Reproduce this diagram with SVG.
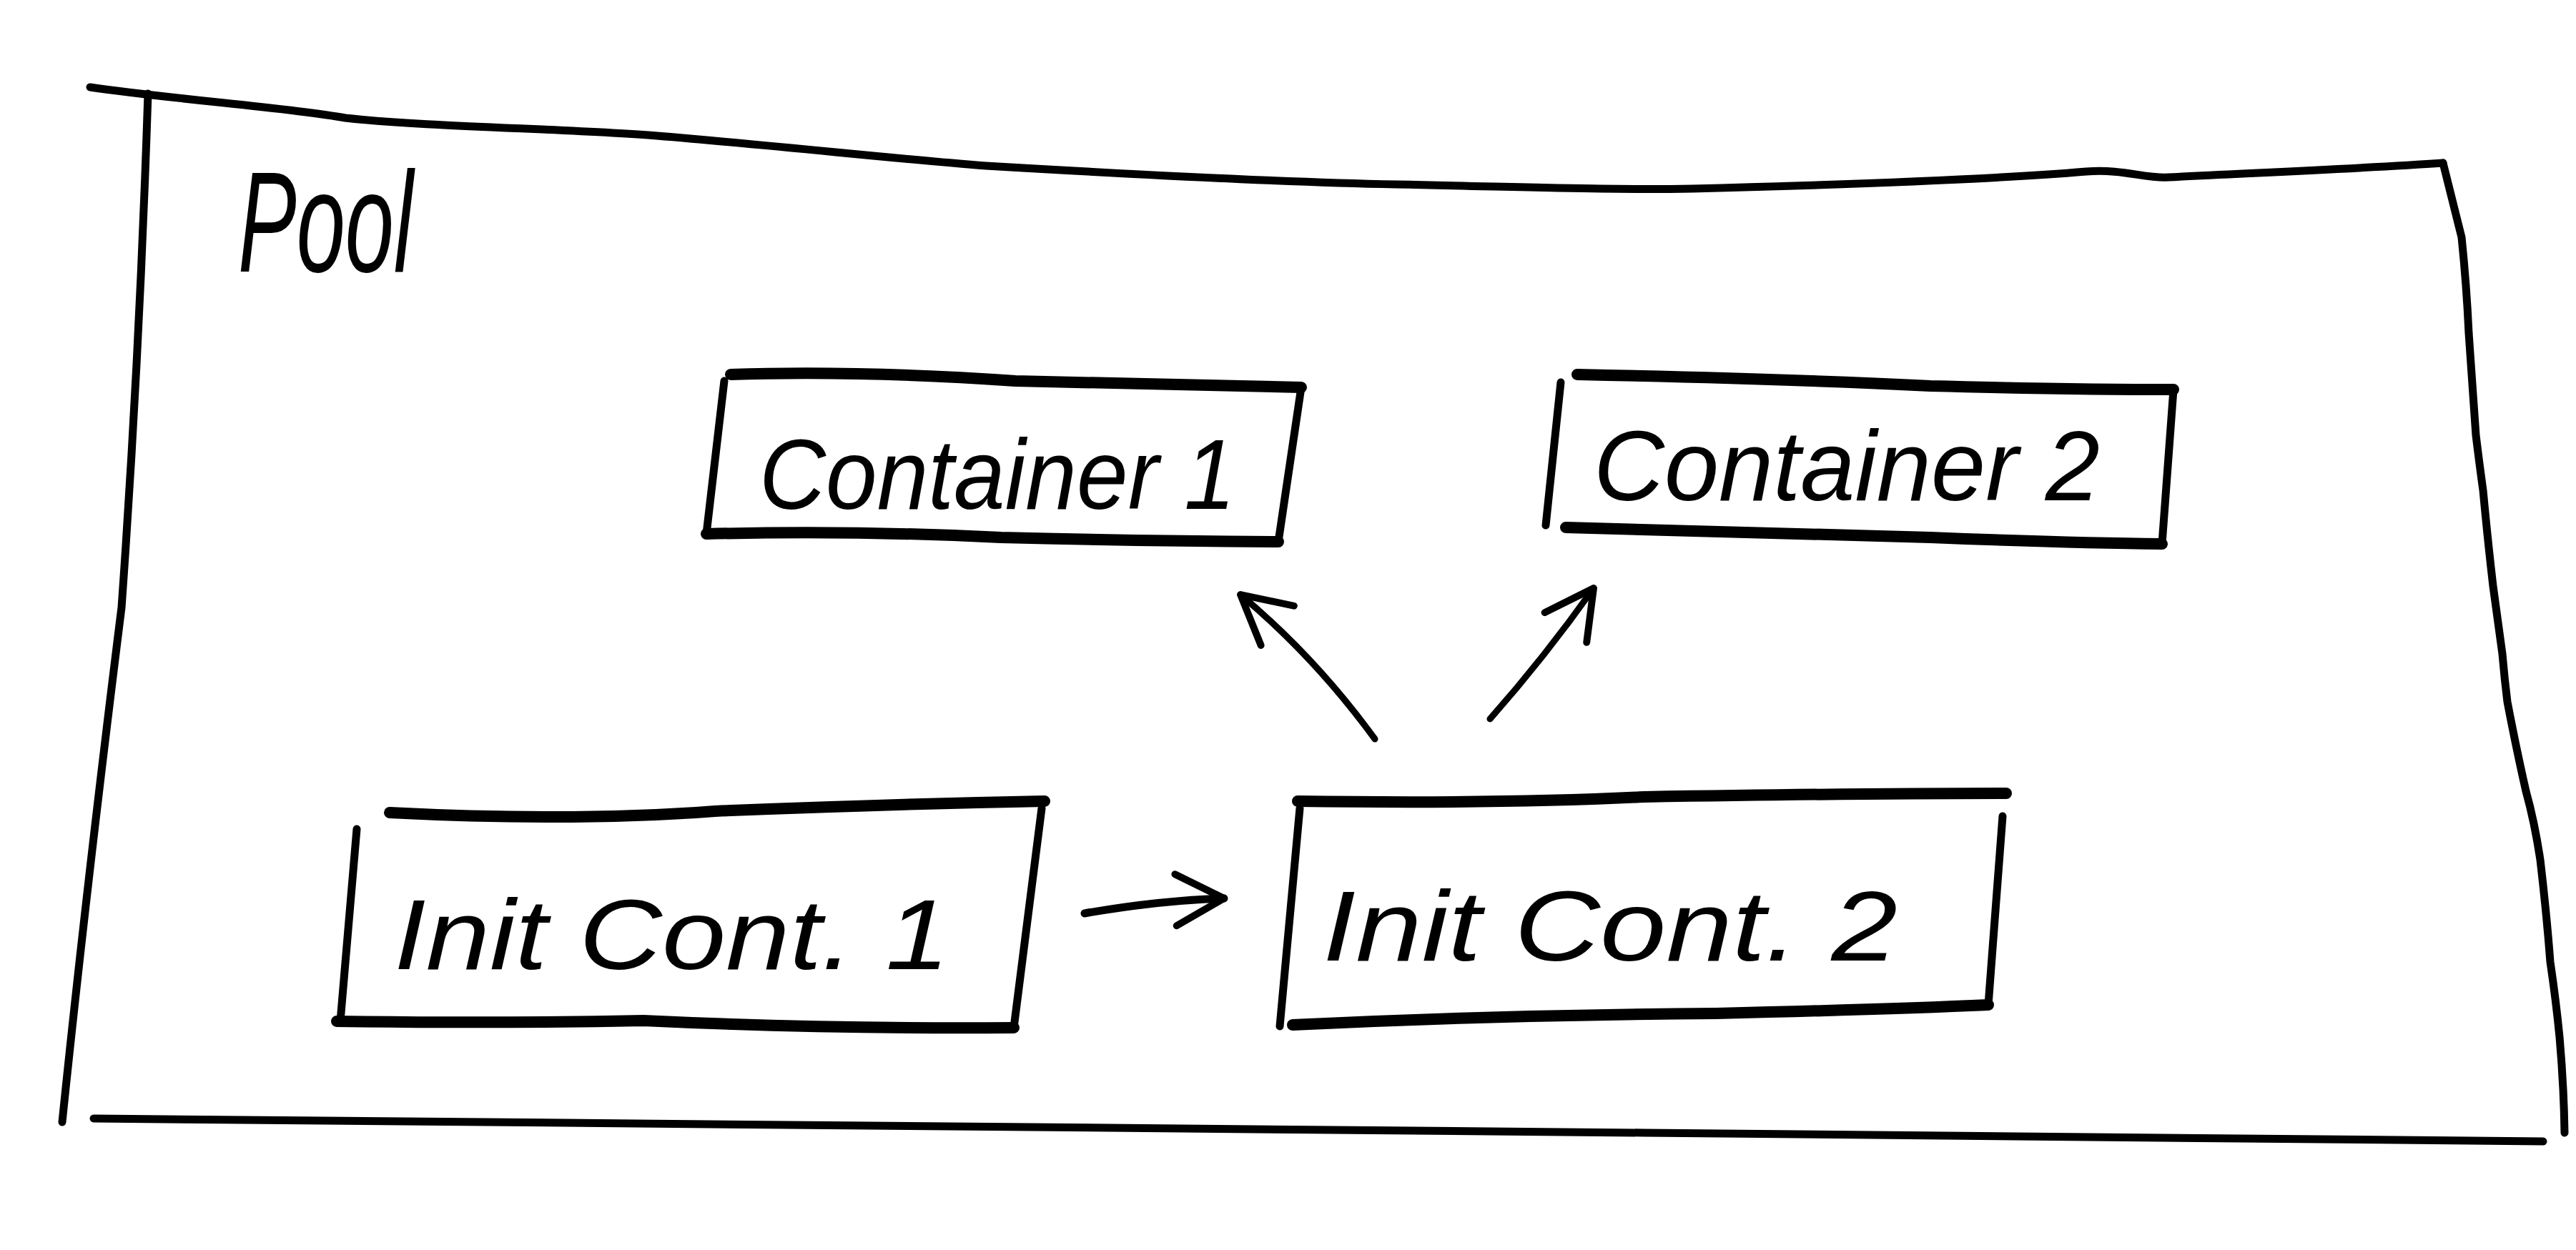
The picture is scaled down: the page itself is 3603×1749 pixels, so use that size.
<svg xmlns="http://www.w3.org/2000/svg" width="3603" height="1749" viewBox="0 0 3603 1749">
<style>
.ink{fill:none;stroke:#000;stroke-linecap:round;stroke-linejoin:round}
.thin{stroke-width:11}
.thick{stroke-width:16}
.hand{font-family:"Liberation Sans","DejaVu Sans",sans-serif;font-style:italic;fill:#000}
</style>
<defs>
<marker id="open" viewBox="0 0 20 20" refX="18" refY="10" markerWidth="90" markerHeight="90" orient="auto" markerUnits="userSpaceOnUse">
<path d="M3,2 L18,10 L3,18" fill="none" stroke="#000" stroke-width="2.2" stroke-linecap="round" stroke-linejoin="round"/>
</marker>
</defs>
<rect width="3603" height="1749" fill="#fff"/>
<g id="pool">
<path class="ink thin" d="M126,122 C250,140 400,150 483,165 C600,178 800,180 919,190 C1100,205 1250,222 1379,232 C1600,245 1800,255 1953,258 C2150,262 2250,266 2367,264 C2600,258 2800,250 2918,240 C2970,236 3000,250 3033,248 C3150,242 3300,236 3417,228"/>
<path class="ink thin" d="M207,131 Q195,500 170,850 Q120,1250 87,1570"/>
<path class="ink thin" d="M3417,228 L3443,332 Q3450,400 3453,466 Q3458,540 3463,609 Q3468,650 3473,686 Q3480,760 3487,820 Q3495,880 3500,915 Q3503,950 3507,982 Q3520,1050 3533,1107 Q3545,1150 3553,1203 Q3562,1280 3567,1346 Q3575,1400 3580,1451 Q3586,1520 3587,1585"/>
<path class="ink thin" d="M131,1565 Q1500,1575 2300,1585 Q3000,1592 3557,1597"/>
<text class="hand" x="333" y="380" font-size="200" textLength="245" lengthAdjust="spacingAndGlyphs">Pool</text>
</g>
<g id="container1">
<path class="ink thick" d="M1022,524 Q1200,518 1420,533 Q1640,538 1820,542"/>
<path class="ink thin" d="M1013,533 L988,747"/>
<path class="ink thick" d="M988,747 Q1200,742 1400,752 Q1600,757 1788,758"/>
<path class="ink thin" d="M1820,542 L1788,758"/>
<text class="hand" x="1062" y="712" font-size="140" textLength="666" lengthAdjust="spacingAndGlyphs">Container 1</text>
</g>
<g id="container2">
<path class="ink thick" d="M2206,524 Q2500,530 2700,540 Q2900,545 3040,545"/>
<path class="ink thin" d="M2183,535 L2162,735"/>
<path class="ink thick" d="M2190,738 Q2450,745 2700,752 Q2900,760 3024,761"/>
<path class="ink thin" d="M3040,545 L3024,761"/>
<text class="hand" x="2229" y="700" font-size="140" textLength="708" lengthAdjust="spacingAndGlyphs">Container 2</text>
</g>
<g id="init1">
<path class="ink thick" d="M545,1137 Q800,1150 1000,1135 Q1250,1125 1461,1121"/>
<path class="ink thin" d="M499,1160 L476,1429"/>
<path class="ink thick" d="M471,1429 Q700,1432 900,1428 Q1150,1440 1418,1438"/>
<path class="ink thin" d="M1457,1131 L1418,1438"/>
<text class="hand" x="551" y="1356" font-size="140" textLength="777" lengthAdjust="spacingAndGlyphs">Init Cont. 1</text>
</g>
<g id="init2">
<path class="ink thick" d="M1815,1121 Q2100,1125 2300,1115 Q2600,1110 2806,1110"/>
<path class="ink thin" d="M1818,1131 L1790,1436"/>
<path class="ink thick" d="M1808,1434 Q2100,1420 2400,1418 Q2650,1412 2781,1406"/>
<path class="ink thin" d="M2801,1142 L2781,1406"/>
<text class="hand" x="1850" y="1344" font-size="140" textLength="804" lengthAdjust="spacingAndGlyphs">Init Cont. 2</text>
</g>
<g id="connectors">
<path class="ink" stroke-width="11" d="M1517,1278 Q1620,1260 1712,1257" marker-end="url(#open)"/>
<path class="ink" stroke-width="9" d="M1923,1034 Q1840,920 1735,832" marker-end="url(#open)"/>
<path class="ink" stroke-width="9" d="M2084,1006 Q2160,920 2229,823" marker-end="url(#open)"/>
</g>
</svg>
